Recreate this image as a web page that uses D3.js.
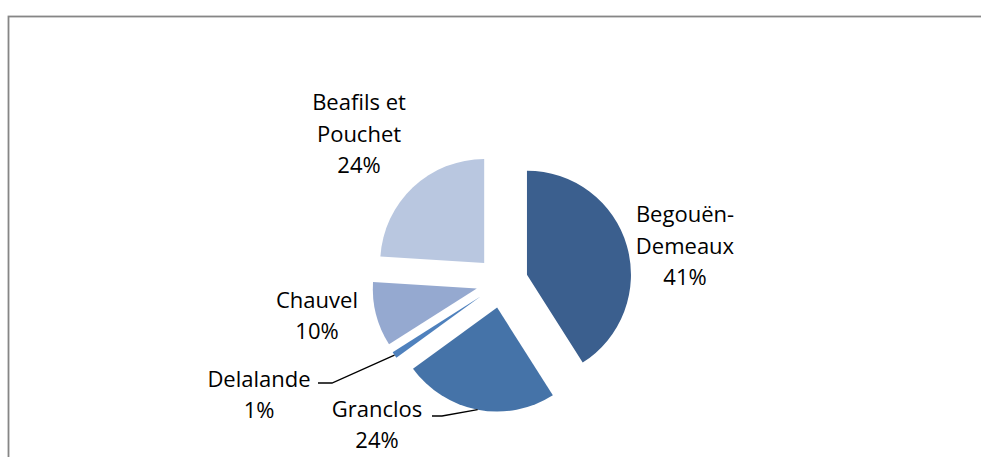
<!DOCTYPE html>
<html>
<head>
<meta charset="utf-8">
<script src="https://cdn.jsdelivr.net/npm/d3@7"></script>
<style>
  body { margin: 0; background: #fff; }
  svg { display: block; }
  .lbl { font-family: "Open Sans", sans-serif; font-size: 22px; fill: #000; }
</style>
</head>
<body>
<svg width="981" height="457"></svg>
<script>
// donnees du graphique
var noms = ["Begouën-Demeaux", "Granclos", "Delalande", "Chauvel", "Beafils et Pouchet"];
var valeurs = [41, 24, 1, 10, 24];
var couleurs = ["#3b5f8e", "#4573a8", "#4f81bd", "#95a9d0", "#b9c7e0"];

// lignes de texte des etiquettes
var lignes = [["Begouën-", "Demeaux"], ["Granclos"], ["Delalande"], ["Chauvel"], ["Beafils et", "Pouchet"]];

var cx = 502, cy = 282;
var rayon = 104;
var eclate = 26;

// position du centre des etiquettes (decalage par rapport au centre)
var posLabel = [[183, -36], [-125, 143], [-243, 113], [-185, 34], [-143, -148]];
var interligne = 31.5;

var svg = d3.select("svg");

// cadre
svg.append("rect")
   .attr("x", 8.5).attr("y", 16.5)
   .attr("width", 1000).attr("height", 500)
   .attr("fill", "none")
   .attr("stroke", "#868686")
   .attr("stroke-width", 1.8);

var pie = d3.pie().sort(null).value(function(d){ return d; });
var arc = d3.arc().innerRadius(0).outerRadius(rayon);
var arcs = pie(valeurs);

var g = svg.append("g").attr("transform", "translate(" + cx + "," + cy + ")");

function milieu(d){ return (d.startAngle + d.endAngle) / 2; }

g.selectAll(".part").data(arcs).enter().append("path")
   .attr("class", "part")
   .attr("d", arc)
   .attr("fill", function(d, i){ return couleurs[i]; })
   .attr("transform", function(d){
      var a = milieu(d);
      return "translate(" + (eclate * Math.sin(a)) + "," + (-eclate * Math.cos(a)) + ")";
   });

var total = d3.sum(valeurs);

// etiquettes
arcs.forEach(function(d, i){
  var txt = lignes[i].concat([Math.round(d.value / total * 100) + "%"]);
  var px = posLabel[i][0], py = posLabel[i][1];
  var y0 = py - (txt.length - 1) * interligne / 2;
  var t = g.append("text").attr("class", "lbl").attr("text-anchor", "middle");
  txt.forEach(function(s, k){
    t.append("tspan").attr("x", px).attr("y", y0 + k * interligne).attr("dy", "0.35em").text(s);
  });
});

// lignes de rappel pour les petites parts
var rappels = [
  { i: 2, pts: [[-184, 101], [-170, 101]] },
  { i: 1, pts: [[-70, 134], [-60, 134]] }
];
rappels.forEach(function(r){
  var a = milieu(arcs[r.i]);
  var fin = [(rayon + eclate) * Math.sin(a), -(rayon + eclate) * Math.cos(a)];
  g.append("path")
   .attr("d", d3.line()(r.pts.concat([fin])))
   .attr("fill", "none")
   .attr("stroke", "#000")
   .attr("stroke-width", 1.3);
});
</script>
</body>
</html>
